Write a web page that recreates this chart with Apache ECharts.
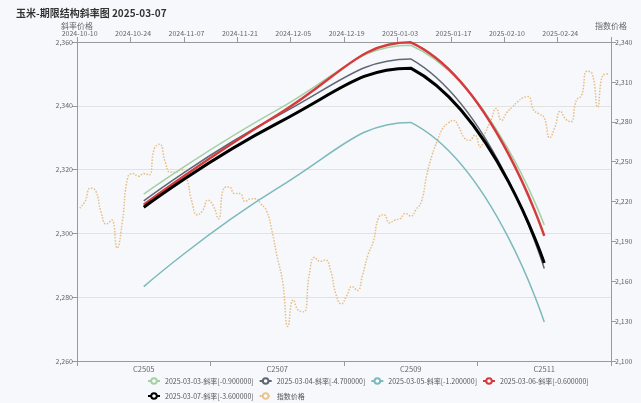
<!DOCTYPE html>
<html>
<head>
<meta charset="utf-8">
<script src="https://cdn.jsdelivr.net/npm/echarts@6/dist/echarts.min.js"></script>
<style>
html,body{margin:0;padding:0;background:#f6f8fb;}
#main{width:641px;height:403px;}
</style>
</head>
<body>
<div id="main"></div>
<script>
// ---- data ----
const contracts = ['C2505', 'C2507', 'C2509', 'C2511'];
const s0303 = [2312.3, 2338.7, 2359.0, 2302.6];
const s0304 = [2310.2, 2336.8, 2354.7, 2289.0];
const s0305 = [2283.3, 2314.1, 2334.8, 2272.2];
const s0306 = [2309.0, 2337.1, 2359.9, 2299.2];
const s0307 = [2308.2, 2334.5, 2351.8, 2290.7];
const seriesNames = [
  '2025-03-03-斜率[-0.900000]',
  '2025-03-04-斜率[-4.700000]',
  '2025-03-05-斜率[-1.200000]',
  '2025-03-06-斜率[-0.600000]',
  '2025-03-07-斜率[-3.600000]'
];
const indexName = '指数价格';
const tradeDates = [
 '2024-10-10','2024-10-11','2024-10-14','2024-10-15','2024-10-16','2024-10-17','2024-10-18','2024-10-21','2024-10-22','2024-10-23',
 '2024-10-24','2024-10-25','2024-10-28','2024-10-29','2024-10-30','2024-10-31','2024-11-01','2024-11-04','2024-11-05','2024-11-06',
 '2024-11-07','2024-11-08','2024-11-11','2024-11-12','2024-11-13','2024-11-14','2024-11-15','2024-11-18','2024-11-19','2024-11-20',
 '2024-11-21','2024-11-22','2024-11-25','2024-11-26','2024-11-27','2024-11-28','2024-11-29','2024-12-02','2024-12-03','2024-12-04',
 '2024-12-05','2024-12-06','2024-12-09','2024-12-10','2024-12-11','2024-12-12','2024-12-13','2024-12-16','2024-12-17','2024-12-18',
 '2024-12-19','2024-12-20','2024-12-23','2024-12-24','2024-12-25','2024-12-26','2024-12-27','2024-12-30','2024-12-31','2025-01-02',
 '2025-01-03','2025-01-06','2025-01-07','2025-01-08','2025-01-09','2025-01-10','2025-01-13','2025-01-14','2025-01-15','2025-01-16',
 '2025-01-17','2025-01-20','2025-01-21','2025-01-22','2025-01-23','2025-01-24','2025-01-27','2025-02-05','2025-02-06','2025-02-07',
 '2025-02-10','2025-02-11','2025-02-12','2025-02-13','2025-02-14','2025-02-17','2025-02-18','2025-02-19','2025-02-20','2025-02-21',
 '2025-02-24','2025-02-25','2025-02-26','2025-02-27','2025-02-28','2025-03-03','2025-03-04','2025-03-05','2025-03-06','2025-03-07'
];
const indexPrice = [
 2215,2220,2230,2228,2212,2203,2206,2185,2205,2238,
 2241,2239,2241,2240,2260,2263,2250,2242,2242,2244,
 2238,2220,2210,2213,2221,2217,2207,2230,2231,2226,
 2226,2220,2222,2222,2218,2213,2198,2178,2160,2126,
 2146,2138,2137,2165,2178,2175,2176,2168,2150,2143,
 2149,2156,2153,2165,2180,2190,2208,2210,2204,2206,
 2207,2211,2209,2214,2220,2240,2255,2266,2275,2279,
 2281,2276,2268,2266,2270,2261,2272,2281,2290,2281,
 2287,2291,2295,2298,2299,2289,2286,2283,2268,2276,
 2288,2282,2280,2296,2300,2318,2316,2291,2315,2316
];
const leftTicks = {min: 2260, max: 2360, interval: 20};
const rightTicks = {min: 2100, max: 2340, interval: 30};

// ---- chart ----
const chart = echarts.init(document.getElementById('main'));
const FONT = 'Noto Sans CJK SC';
const lab = {color: '#666', fontSize: 7, fontFamily: FONT};
const axLine = {show: true, lineStyle: {color: '#999'}};
const colors = ['#a5d0a6', '#5f6674', '#7db9bb', '#d63b3c', '#000000'];
const widths = [1.5, 1.5, 1.5, 2.5, 3];
const vals = [s0303, s0304, s0305, s0306, s0307];

const series = [{
  name: indexName, type: 'line', xAxisIndex: 0, yAxisIndex: 1,
  data: indexPrice, smooth: true, symbol: 'emptyCircle', showSymbol: false,
  itemStyle: {color: '#ecc48f', borderWidth: 1},
  lineStyle: {color: '#e8bd85', width: 1.5, type: 'dotted'}, z: 1
}];
// legend carriers (line icons)
vals.forEach((v, k) => {
  series.push({
    name: seriesNames[k], type: 'line', xAxisIndex: 1, yAxisIndex: 0,
    data: [], symbol: 'emptyCircle', showSymbol: false,
    itemStyle: {color: colors[k], borderWidth: k === 4 ? 1.5 : 1},
    lineStyle: {color: colors[k], width: k === 4 ? 1.5 : 1}
  });
});
// curves: smoothed polyline through axis coordinates, with bounding-box constraint
vals.forEach((v, k) => {
  series.push({
    name: seriesNames[k], type: 'custom', xAxisIndex: 1, yAxisIndex: 0, z: 2 + k,
    data: v.map((y, i) => [i, y]),
    encode: {x: 0, y: 1},
    itemStyle: {color: colors[k]},
    renderItem: function (params, api) {
      if (params.dataIndex !== 0) return null;
      const pts = v.map((y, i) => api.coord([i, y]));
      return {
        type: 'polyline', silent: true,
        shape: {points: pts, smooth: 0.5, smoothConstraint: [pts[0].slice(), pts[0].slice()]},
        style: {stroke: colors[k], lineWidth: widths[k], fill: null, lineJoin: 'round'}
      };
    }
  });
});

chart.setOption({
  backgroundColor: '#f6f8fb',
  animation: false,
  title: {
    text: '玉米-期限结构斜率图 2025-03-07', left: 11, top: 3,
    textStyle: {fontSize: 10, fontWeight: 'bold', color: '#333', fontFamily: FONT}
  },
  grid: {left: 77, right: 30, top: 42, bottom: 42},
  legend: {
    data: [seriesNames[0], seriesNames[1], seriesNames[2], seriesNames[3], seriesNames[4], indexName],
    left: 142, right: 40, top: 371, itemWidth: 12, itemHeight: 7, itemGap: 5,
    textStyle: {color: '#555', fontSize: 7, fontFamily: FONT, lineHeight: 10}
  },
  xAxis: [{
    type: 'category', position: 'top', data: tradeDates, boundaryGap: true,
    axisLine: axLine, axisTick: {show: true, interval: 9, lineStyle: {color: '#999'}},
    axisLabel: Object.assign({interval: 9, margin: 5}, lab),
    splitLine: {show: false}
  }, {
    type: 'category', position: 'bottom', data: contracts,
    axisLine: axLine, axisTick: {show: true, lineStyle: {color: '#999'}},
    axisLabel: Object.assign({margin: 4}, lab, {fontSize: 7.5}),
    splitLine: {show: false}
  }],
  yAxis: [{
    type: 'value', name: '斜率价格', position: 'left',
    min: leftTicks.min, max: leftTicks.max, interval: leftTicks.interval,
    nameGap: 11, nameTextStyle: {color: '#666', fontSize: 8, fontFamily: FONT},
    axisLine: axLine, axisTick: {show: true, lineStyle: {color: '#999'}},
    axisLabel: Object.assign({margin: 4}, lab),
    splitLine: {show: true, lineStyle: {color: '#e2e2e2'}}
  }, {
    type: 'value', name: '指数价格', position: 'right',
    min: rightTicks.min, max: rightTicks.max, interval: rightTicks.interval,
    nameGap: 12, nameTextStyle: {color: '#666', fontSize: 8, fontFamily: FONT},
    axisLine: axLine, axisTick: {show: true, lineStyle: {color: '#999'}},
    axisLabel: Object.assign({margin: 4}, lab),
    splitLine: {show: false}
  }],
  series: series
});
</script>
</body>
</html>
